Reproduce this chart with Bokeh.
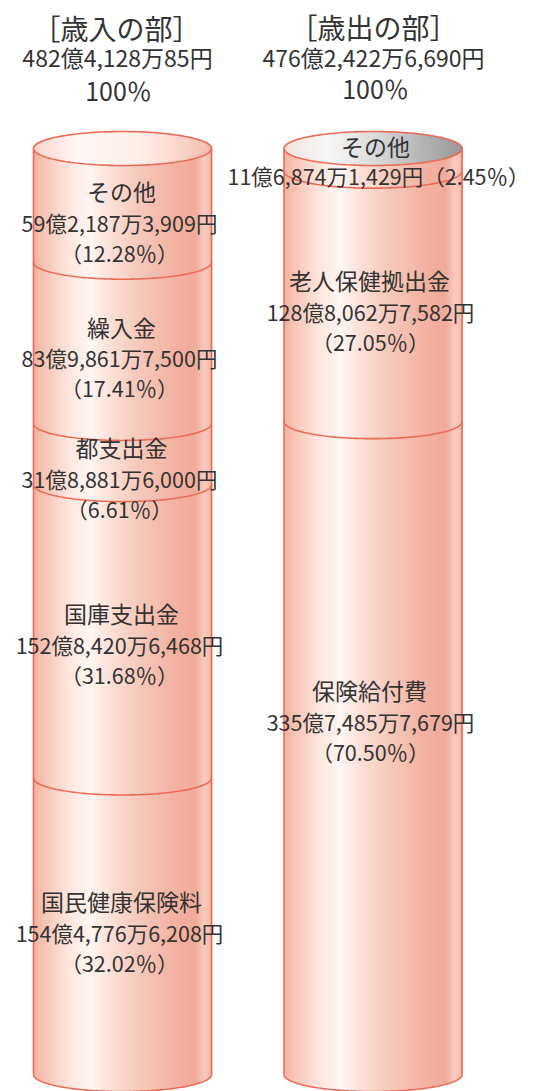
import numpy as np
from bokeh.plotting import figure
from bokeh.models import Range1d, ColumnDataSource
from bokeh.core.properties import value
from bokeh.embed import file_html
from bokeh.resources import INLINE

# ---------------- data ----------------
rev_title = "［歳入の部］"
rev_total = "482億4,128万85円"
rev_names = ["その他", "繰入金", "都支出金", "国庫支出金", "国民健康保険料"]
rev_amounts = ["59億2,187万3,909円", "83億9,861万7,500円", "31億8,881万6,000円",
               "152億8,420万6,468円", "154億4,776万6,208円"]
rev_pct = [12.28, 17.41, 6.61, 31.68, 32.02]

exp_title = "［歳出の部］"
exp_total = "476億2,422万6,690円"
exp_names = ["その他", "老人保健拠出金", "保険給付費"]
exp_amounts = ["11億6,874万1,429円", "128億8,062万7,582円", "335億7,485万7,679円"]
exp_pct = [2.45, 27.05, 70.50]

total_pct = "100％"

# ---------------- layout ----------------
W, H = 539, 1091
TOP_PX, BOT_PX = 148, 1074
SCALE = (BOT_PX - TOP_PX) / 100.0
def py(px):
    return 100 + (TOP_PX - px) / SCALE
def dpx(px):
    return px / SCALE

RX = 89.0
RY = dpx(17)
CX_L, CX_R = 122.0, 372.5
FONT = value("Noto Sans CJK JP")
TXT = "#333333"
EDGE = "#ea6a54"

p = figure(width=W, height=H, x_range=Range1d(0, W), y_range=Range1d(py(H), py(0)),
           output_backend="svg", toolbar_location=None, min_border=0,
           x_axis_location=None, y_axis_location=None)
p.grid.visible = False
p.outline_line_color = None
p.background_fill_color = "#ffffff"
p.border_fill_color = "#ffffff"

def hex2rgb(h):
    h = h.lstrip("#")
    return np.array([int(h[i:i+2], 16) for i in (0, 2, 4)], dtype=float)

def interp(stops, t):
    ts = [s[0] for s in stops]
    cs = [hex2rgb(s[1]) for s in stops]
    for i in range(len(ts) - 1):
        if ts[i] <= t <= ts[i+1]:
            f = (t - ts[i]) / (ts[i+1] - ts[i])
            c = cs[i] * (1 - f) + cs[i+1] * f
            return "#%02x%02x%02x" % tuple(int(round(v)) for v in c)
    c = cs[-1] if t > ts[-1] else cs[0]
    return "#%02x%02x%02x" % tuple(int(v) for v in c)

BODY = [(0.0, "#f4b2a1"), (0.06, "#f7c4b6"), (0.20, "#fde6df"), (0.32, "#fef5f2"),
        (0.45, "#fbddd4"), (0.62, "#f6c5b8"), (0.80, "#f3b1a0"), (0.91, "#f2aa99"),
        (0.96, "#f8cbbf"), (1.0, "#f4b9a9")]
TOP_PINK = [(0.0, "#f9d4ca"), (0.25, "#fff8f6"), (0.6, "#fdeee9"), (0.85, "#f9d2c8"), (1.0, "#f4baab")]
TOP_GREY = [(0.0, "#f2e4e0"), (0.25, "#f7f7f7"), (0.55, "#d6d6d6"), (0.85, "#aaaaaa"), (1.0, "#9a9a9a")]

N = 120
def cylinder(cx, pcts, top_stops):
    edges = np.linspace(cx - RX, cx + RX, N + 1)
    left = edges[:-1]
    right = edges[1:] + 0.7
    mid = (edges[:-1] + edges[1:]) / 2
    s = np.sqrt(np.clip(1 - ((mid - cx) / RX) ** 2, 0, 1))
    t = (mid - (cx - RX)) / (2 * RX)
    # body
    p.quad(left=left, right=right, top=np.full(N, 100.0), bottom=0 - RY * s,
           fill_color=[interp(BODY, v) for v in t], line_color=None)
    # top face
    p.quad(left=left, right=right, top=100 + RY * s, bottom=100 - RY * s,
           fill_color=[interp(top_stops, v) for v in t], line_color=None)
    # outlines
    th = np.linspace(0, 2 * np.pi, 200)
    p.line(cx + RX * np.cos(th), 100 + RY * np.sin(th), line_color=EDGE, line_width=1.6)
    p.segment(x0=[cx - RX, cx + RX], y0=[100, 100], x1=[cx - RX, cx + RX], y1=[0, 0],
              line_color=EDGE, line_width=1.6)
    cum = 100 - np.cumsum(pcts)
    front = np.linspace(np.pi, 2 * np.pi, 120)
    xs, ys = [], []
    for yc in cum:
        xs.append(cx + RX * np.cos(front))
        ys.append(max(yc, 0) + RY * np.sin(front))
    p.multi_line(xs, ys, line_color=EDGE, line_width=1.6)
    tops = np.concatenate([[100.0], cum[:-1]])
    return tops, np.maximum(cum, 0)

rt, rb = cylinder(CX_L, rev_pct, TOP_PINK)
et, eb = cylinder(CX_R, exp_pct, TOP_GREY)

def add_text(xs, ys, texts, size):
    src = ColumnDataSource(dict(x=xs, y=ys, t=texts))
    p.text(x="x", y="y", text="t", source=src, text_font=FONT, text_font_size=size,
           text_color=TXT, text_align="center", text_baseline="middle")

# headers
add_text([116, 373], [py(27), py(26)], [rev_title, exp_title], "28px")
add_text([117, 373], [py(56), py(56)], [rev_total, exp_total], "23px")
add_text([118, 375], [py(89), py(87)], [total_pct, total_pct], "25px")

# revenue labels
rev_off = [0, -2, 7, -4, -11]
names_y, names_t = [], []
amt_y, amt_t, pct_y, pct_t = [], [], [], []
for i in range(len(rev_names)):
    midy = (rt[i] + rb[i]) / 2 - RY - dpx(rev_off[i])
    names_y.append(midy + dpx(31)); names_t.append(rev_names[i])
    amt_y.append(midy); amt_t.append(rev_amounts[i])
    pct_y.append(midy - dpx(30)); pct_t.append("（%.2f％）" % rev_pct[i])
n = len(rev_names)
add_text([121] * n, names_y, names_t, "23px")
add_text([119] * n, amt_y, amt_t, "21.5px")
add_text([119] * n, pct_y, pct_t, "21.5px")

# expenditure labels
exp_off = [0, -2, -44]
ex_n_y, ex_a_y, ex_p_y = [], [], []
for i in range(1, len(exp_names)):
    midy = (et[i] + eb[i]) / 2 - RY - dpx(exp_off[i])
    ex_n_y.append(midy + dpx(31)); ex_a_y.append(midy); ex_p_y.append(midy - dpx(30))
add_text([369, 369], ex_n_y, exp_names[1:], "23px")
add_text([370, 370], ex_a_y, exp_amounts[1:], "21.5px")
add_text([370, 370], ex_p_y, ["（%.2f％）" % v for v in exp_pct[1:]], "21.5px")
# small top segment label (placed on the top face)
add_text([375], [py(145)], [exp_names[0]], "23px")
add_text([378], [py(175)], [exp_amounts[0] + "（%.2f％）" % exp_pct[0]], "21.5px")

open("out.html", "w").write(file_html(p, INLINE))
